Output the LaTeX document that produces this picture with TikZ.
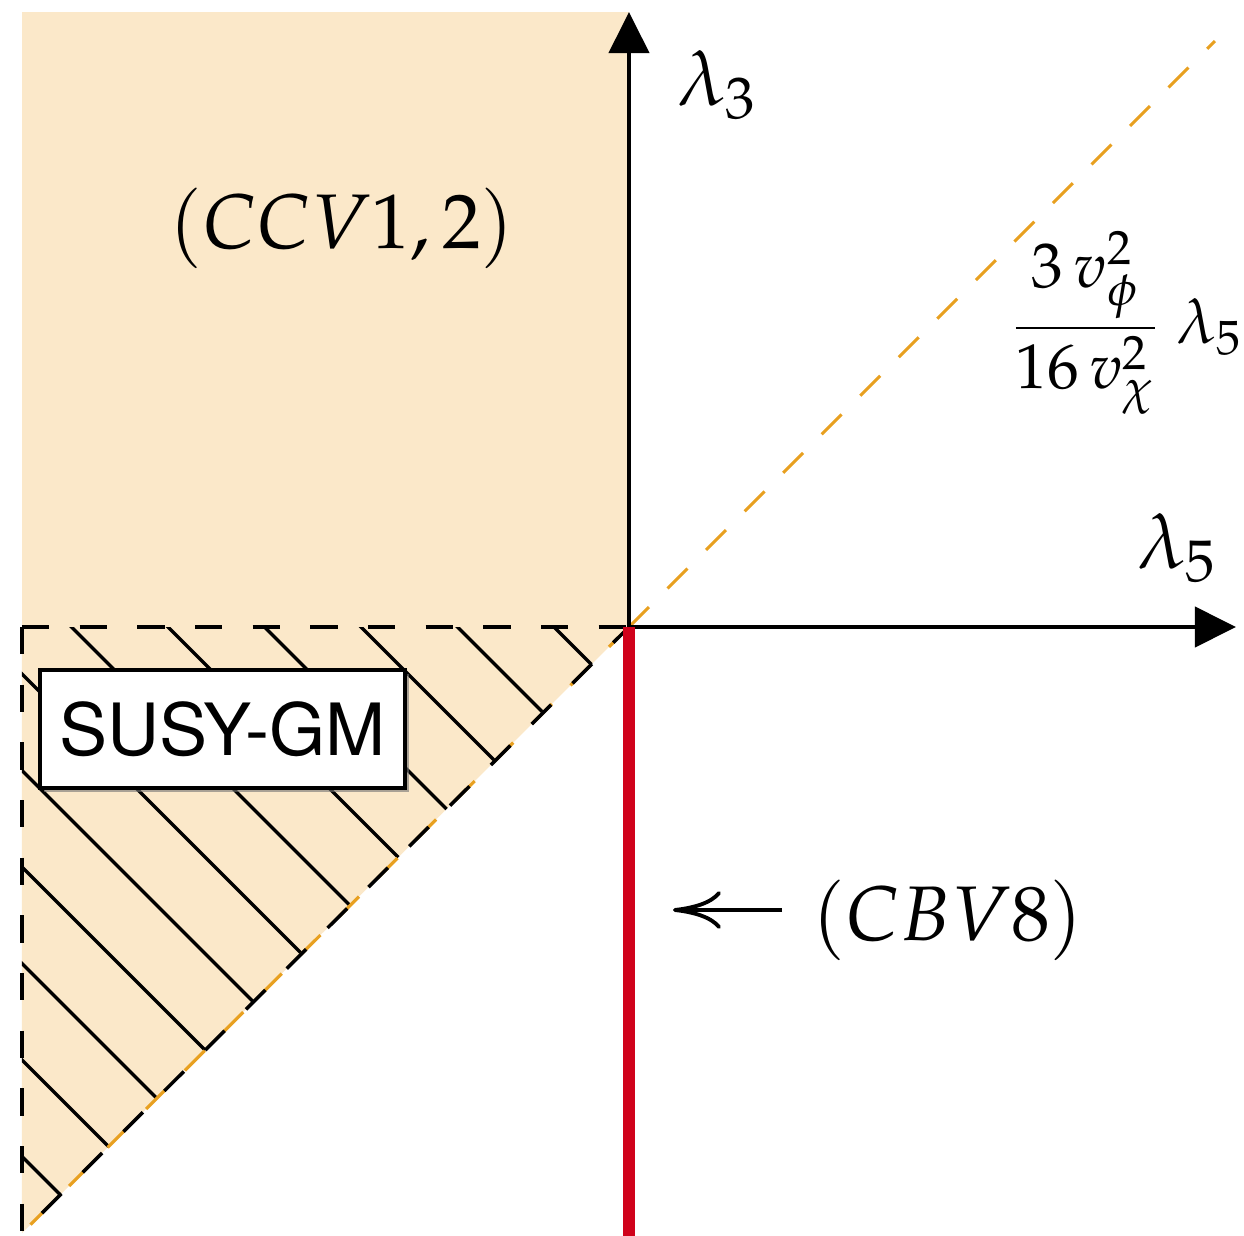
\documentclass[tikz,border=0pt]{standalone}
\usepackage{amsmath}
\usepackage{mathpazo}
\usepackage[no-math]{fontspec}
\newfontfamily\susyfont{TeX Gyre Heros}
\usetikzlibrary{arrows.meta,shadows}
\definecolor{peach}{RGB}{251,232,201}
\definecolor{dashorange}{RGB}{232,160,32}
\definecolor{cbvred}{RGB}{208,2,27}
\begin{document}
\begin{tikzpicture}[x=0.01cm,y=-0.01cm,
  every node/.style={inner sep=0pt},
  mathlab/.style={font=\fontsize{22}{26}\selectfont},
  fraclab/.style={font=\fontsize{18}{22}\selectfont},
  axisline/.style={line width=1.15pt,-{Triangle[length=0.41cm,width=0.40cm]}},
  borderdash/.style={line width=1pt,dash pattern=on 7.8pt off 8.6pt},
  hatchline/.style={line width=0.95pt},
  guideline/.style={dashorange,line width=0.9pt,dash pattern=on 8pt off 7.5pt},
  redline/.style={cbvred,line width=3.6pt},
  pointer/.style={line width=1.1pt,-{To[length=0.48cm,width=0.38cm]}},
  labelbox/.style={draw,fill=white,line width=1pt,minimum width=3.65cm,minimum height=1.18cm,
    font=\susyfont\fontsize{20.5}{24}\selectfont,
    drop shadow={shadow xshift=1.2pt,shadow yshift=-1.2pt,fill=black!55,opacity=0.6}},
]
\useasboundingbox (0,0) rectangle (1244,1236);
\coordinate (O) at (629,627);
\coordinate (TL) at (22,12);
\coordinate (L) at (22,627);
\coordinate (B) at (22,1233);
\coordinate (ytip) at (629,12);
\coordinate (xtip) at (1236,627);
\coordinate (gtop) at (1215,41);
\coordinate (rbot) at (629,1236);
\coordinate (cbvtip) at (673,910);
% shaded regions
\fill[peach] (TL) rectangle (O);
\fill[peach] (L) -- (O) -- (B) -- cycle;
% hatching
\begin{scope}
  \clip (L) -- (O) -- (B) -- cycle;
  \foreach \k in {0,...,11} {
    \pgfmathsetmacro{\c}{-73-96.5*\k}
    \draw[hatchline] (\c+600,600) -- (\c+1300,1300);
  }
\end{scope}
% label box
\node[labelbox] (susy) at (222.5,729) {SUSY-GM};
% dashed borders and guide line
\draw[guideline] (O) -- (gtop);
\draw[guideline] (O) -- (B);
\draw[borderdash,dash phase=1.5pt] (O) -- (B);
\draw[borderdash] (L) -- (B);
\draw[borderdash] (L) -- (O);
% axes
\draw[axisline] (O) -- (ytip);
\draw[axisline] (O) -- (xtip);
% red line
\draw[redline] (O) -- (rbot);
% labels
\node[mathlab] (l3) at (717,85) {$\lambda_3$};
\node[mathlab] (l5) at (1177,548) {$\lambda_5$};
\node[mathlab] (ccv) at (342,228) {$(CCV1,2)$};
\node[fraclab] (frac) at (1127,323) {$\dfrac{3\,v_\phi^2}{16\,v_\chi^2}\;\lambda_5$};
\node[mathlab] (cbv) at (948,920) {$(CBV8)$};
\draw[pointer,shorten <=0.3cm] (cbv.west |- cbvtip) -- (cbvtip);
\end{tikzpicture}
\end{document}
